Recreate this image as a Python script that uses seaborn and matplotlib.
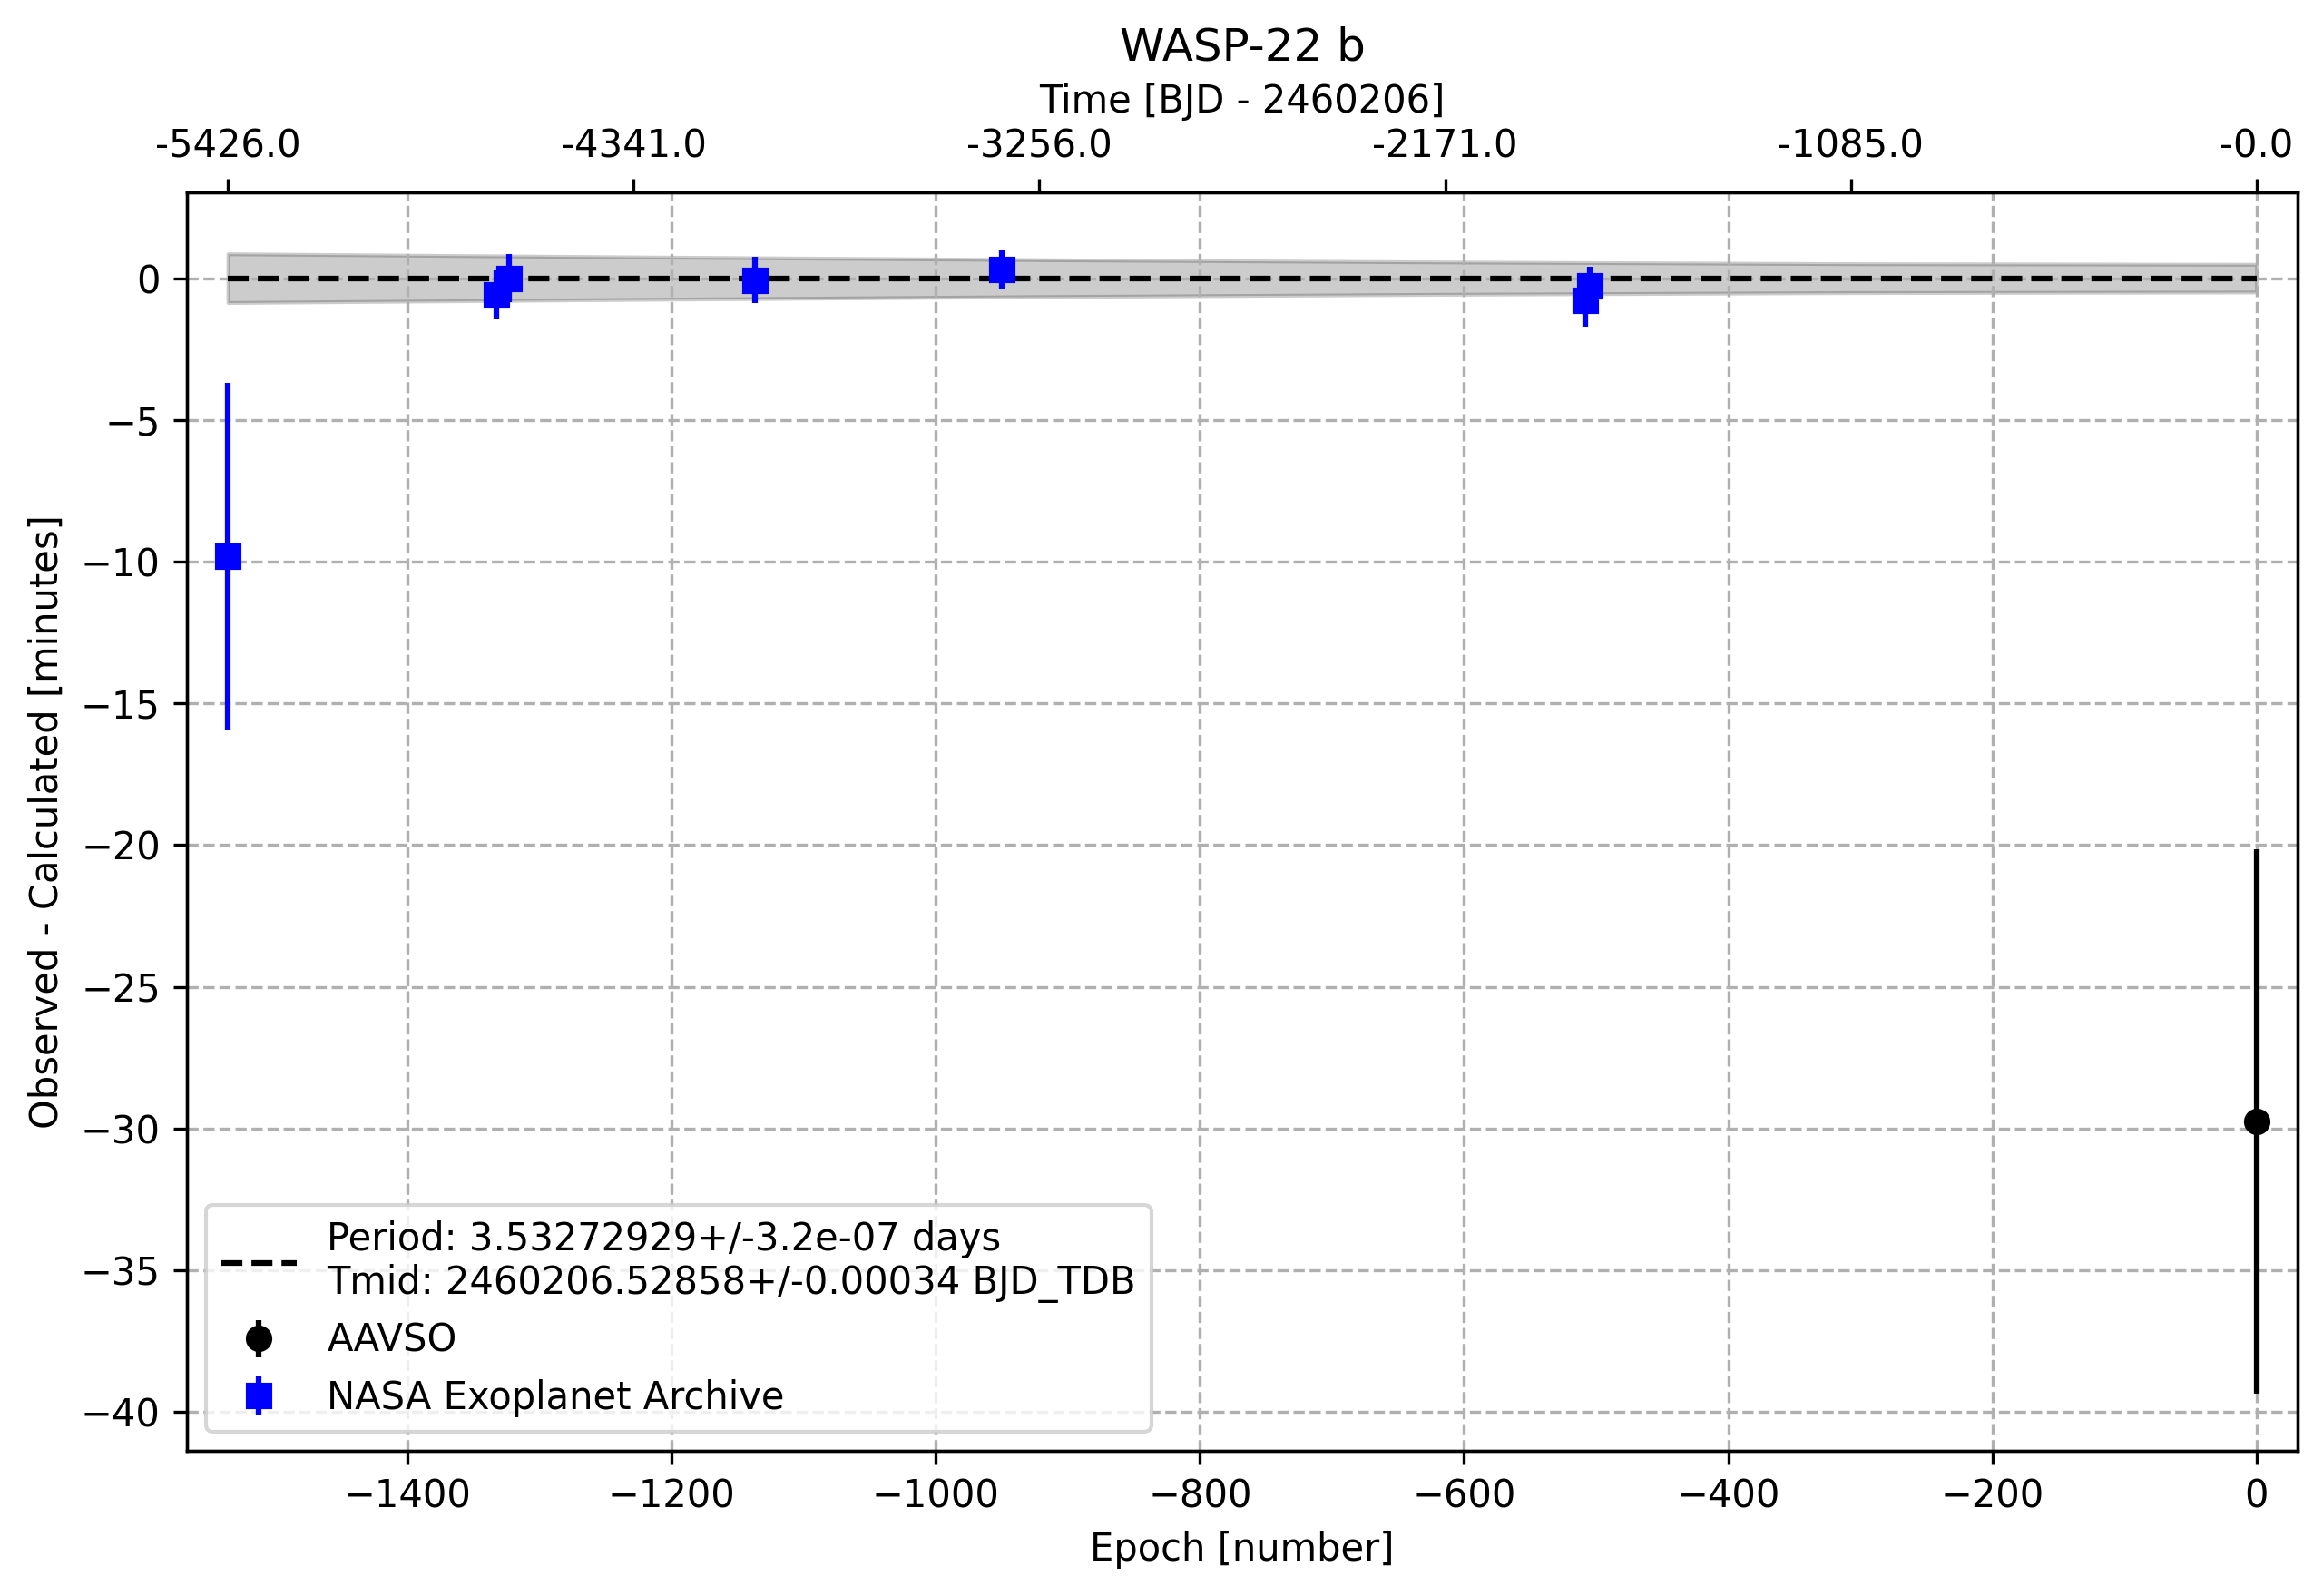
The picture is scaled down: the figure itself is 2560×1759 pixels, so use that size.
"""O-C diagram for WASP-22 b, rebuilt with seaborn + matplotlib errorbars."""
import matplotlib
matplotlib.use("Agg")
import matplotlib.pyplot as plt
import seaborn as sns

TITLE = "WASP-22 b"
PERIOD_LABEL = "Period: 3.53272929+/-3.2e-07 days\nTmid: 2460206.52858+/-0.00034 BJD_TDB"

# ephemeris line and its 1-sigma band (minutes)
ephem_epoch = [-1536, 0]
ephem_oc = [0.0, 0.0]
band_epoch = [-1536, -1229, -922, -614, -307, 0]
band_upper = [0.86, 0.75, 0.65, 0.57, 0.51, 0.49]
band_lower = [-0.86, -0.75, -0.65, -0.57, -0.51, -0.49]

# AAVSO observation
aavso_epoch = [0]
aavso_oc = [-29.76]
aavso_err = [9.6]

# NASA Exoplanet Archive observations
nasa_epoch = [-1536, -1333, -1323, -1137, -950, -508, -505]
nasa_oc = [-9.82, -0.60, 0.0, -0.07, 0.32, -0.78, -0.26]
nasa_err = [6.12, 0.86, 0.84, 0.81, 0.69, 0.93, 0.65]

# upper axis: epoch positions and the time labels shown there
top_tick_epoch = [-1536, -1228.8, -921.6, -614.4, -307.2, 0]
top_tick_labels = ["-5426.0", "-4341.0", "-3256.0", "-2171.0", "-1085.0", "-0.0"]

XLIM = (-1567, 31)

fig, ax = plt.subplots(figsize=(2560 / 300, 1759 / 300), dpi=300)
fig.subplots_adjust(left=0.0805, right=0.989, bottom=0.0908, top=0.8795)

ax.fill_between(band_epoch, band_lower, band_upper, color="black", alpha=0.2)
sns.lineplot(x=ephem_epoch, y=ephem_oc, color="black", linestyle="--",
             label=PERIOD_LABEL, ax=ax)
ax.errorbar(aavso_epoch, aavso_oc, yerr=aavso_err, fmt="ko", label="AAVSO")
ax.errorbar(nasa_epoch, nasa_oc, yerr=nasa_err, fmt="s", color="blue",
            label="NASA Exoplanet Archive")

ax.set_xlim(*XLIM)
ax.set_xlabel("Epoch [number]")
ax.set_ylabel("Observed - Calculated [minutes]")
ax.grid(True, linestyle="--")
ax.legend(loc="lower left")

ax2 = ax.twiny()
ax2.set_xlim(*XLIM)
ax2.set_xticks(top_tick_epoch)
ax2.set_xticklabels(top_tick_labels)
ax2.set_xlabel("Time [BJD - 2460206]")

ax.set_title(TITLE)

fig.savefig("out.png", dpi=300)
plt.close(fig)
